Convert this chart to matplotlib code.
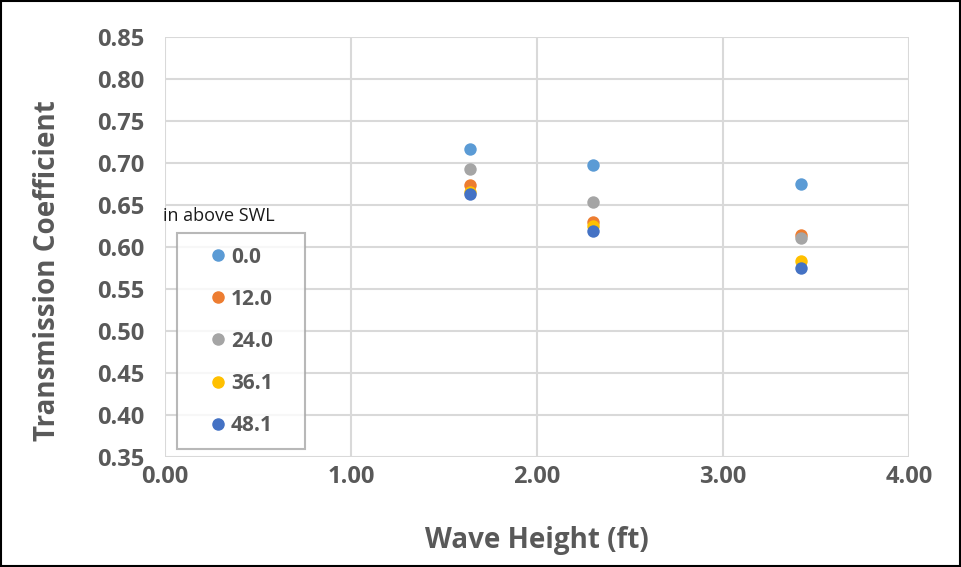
import matplotlib.pyplot as plt
from matplotlib.patches import Rectangle
from matplotlib.lines import Line2D

# wave heights (ft)
wave_height = [1.64, 2.30, 3.42]

# transmission coefficient per height above SWL (in)
series_labels = ["0.0", "12.0", "24.0", "36.1", "48.1"]
kt_00 = [0.717, 0.698, 0.675]
kt_12 = [0.674, 0.630, 0.614]
kt_24 = [0.693, 0.653, 0.611]
kt_36 = [0.666, 0.625, 0.583]
kt_48 = [0.663, 0.619, 0.575]
series_values = [kt_00, kt_12, kt_24, kt_36, kt_48]

colors = ["#5b9bd5", "#ed7d31", "#a5a5a5", "#ffc000", "#4472c4"]
text_col = "#595959"

plt.rcParams['font.family'] = ['Open Sans', 'DejaVu Sans']

fig = plt.figure(figsize=(9.61, 5.67), dpi=100)
ax = fig.add_axes([0.1717, 0.194, 0.7742, 0.7407])

for vals, c, lab in zip(series_values, colors, series_labels):
    ax.scatter(wave_height, vals, s=80, color=c, label=lab, zorder=3, linewidths=0)

ax.set_xlim(0, 4)
ax.set_ylim(0.35, 0.85)
ax.set_xticks([0, 1, 2, 3, 4])
ax.set_xticklabels(["%.2f" % v for v in [0, 1, 2, 3, 4]])
ax.set_yticks([0.35 + 0.05 * i for i in range(11)])
ax.set_yticklabels(["%.2f" % (0.35 + 0.05 * i) for i in range(11)])
ax.grid(True, color="#d9d9d9", lw=1.5, zorder=0)
ax.set_axisbelow(True)
for s in ax.spines.values():
    s.set_visible(False)
ax.tick_params(axis="y", length=0, labelsize=17, labelcolor=text_col, pad=15)
ax.tick_params(axis="x", length=0, labelsize=17, labelcolor=text_col, pad=6)
for t in ax.get_xticklabels() + ax.get_yticklabels():
    t.set_fontweight("bold")

ax.set_xlabel("Wave Height (ft)", fontsize=20, fontweight="bold", color=text_col)
ax.set_ylabel("Transmission Coefficient", fontsize=20, fontweight="bold", color=text_col)
ax.xaxis.set_label_coords(0.5, -0.2)
ax.yaxis.set_label_coords(-0.158, 0.444)
ax.xaxis.label.set_va("center")
ax.yaxis.label.set_va("center")

handles = [Line2D([], [], marker="o", ls="", color=c, markersize=8) for c in colors]
leg = ax.legend(handles, series_labels, loc="upper left", bbox_to_anchor=(0.016, 0.0, 0.172, 0.533),
                mode="expand", borderaxespad=0,
                frameon=True, fancybox=False, borderpad=0.65, labelspacing=1.01,
                handletextpad=-0.7, handlelength=2.65, prop={"weight": "bold", "size": 15})
leg.get_frame().set_edgecolor("#a6a6a6")
leg.get_frame().set_linewidth(1.5)
for t in leg.get_texts():
    t.set_color(text_col)

ax.text(-0.003, 0.575, "in above SWL", transform=ax.transAxes, fontsize=13, color="#1a1a1a",
        ha="left", va="center")

fig.patches.append(Rectangle((0.001, 0.001), 0.998, 0.997, transform=fig.transFigure,
                             fill=False, edgecolor="black", lw=1.5))

fig.savefig("out.png", dpi=100)
